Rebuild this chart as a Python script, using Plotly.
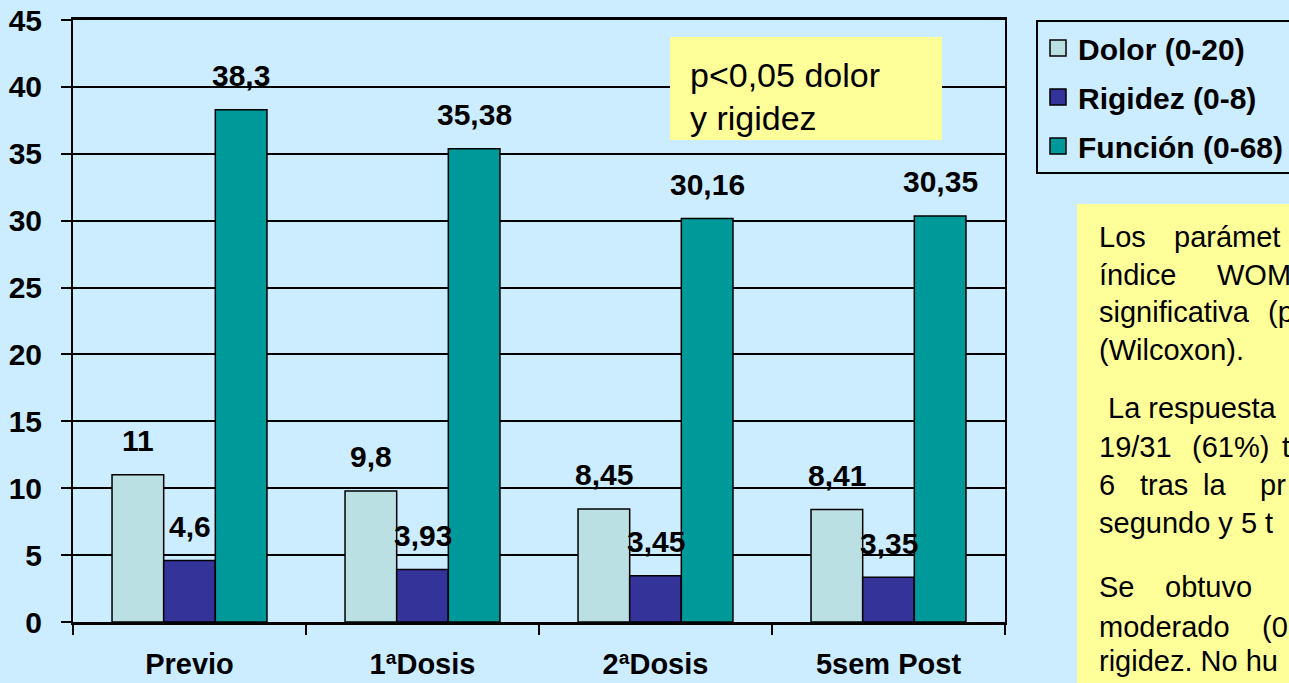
import plotly.graph_objects as go

categories = ["Previo", "1ªDosis", "2ªDosis", "5sem Post"]
series_names = ["Dolor (0-20)", "Rigidez (0-8)", "Función (0-68)"]
dolor = [11, 9.8, 8.45, 8.41]
rigidez = [4.6, 3.93, 3.45, 3.35]
funcion = [38.3, 35.38, 30.16, 30.35]
y_ticks = [0, 5, 10, 15, 20, 25, 30, 35, 40, 45]

colors = ["#BBE0E3", "#333399", "#009999"]
BG = "#CCECFF"
YEL = "#FFFF99"
FONT = "Liberation Sans, Arial, sans-serif"
FS = 30

# plot area in pixels
L, R, T, B = 73, 1005, 20, 622
W, H = 1289, 683


def px(x):
    return (x - L) / (R - L)


def py(y):
    return (B - y) / (B - T)


def fmt(v):
    return ("%g" % v).replace(".", ",")


fig = go.Figure()
all_series = [dolor, rigidez, funcion]
for i, (name, vals) in enumerate(zip(series_names, all_series)):
    fig.add_trace(go.Bar(
        x=categories, y=vals, name=name, legendgroup=name, showlegend=False,
        marker=dict(color=colors[i], line=dict(color="#000000", width=1.5)),
    ))
# legend entries (square swatches like the original legend)
for i, name in enumerate(series_names):
    fig.add_trace(go.Scatter(
        x=[None], y=[None], mode="markers", name=name, legendgroup=name,
        marker=dict(symbol="square", size=16, color=colors[i],
                    line=dict(color="#000000", width=1.5)),
    ))

annotations = []
group_w = (R - L) / len(categories)
bargap = 0.335
bar_w = group_w * (1 - bargap) / 3
for i, vals in enumerate(all_series):
    for c, v in zip(categories, vals):
        annotations.append(dict(
            x=c, y=v, xref="x", yref="y", text="<b>%s</b>" % fmt(v),
            showarrow=False, xanchor="center", yanchor="middle",
            xshift=(i - 1) * bar_w, yshift=34,
            font=dict(family=FONT, size=FS, color="#000000"),
        ))

shapes = []
# p-value box
shapes.append(dict(type="rect", xref="paper", yref="paper",
                   x0=px(670), x1=px(942), y0=py(140), y1=py(37),
                   fillcolor=YEL, line=dict(width=0), layer="above"))
for ypix, txt in [(75, "p<0,05 dolor"), (118, "y rigidez")]:
    annotations.append(dict(x=px(688), y=py(ypix), xref="paper", yref="paper",
                            text=txt, showarrow=False, xanchor="left", yanchor="middle",
                            font=dict(family=FONT, size=34, color="#000000")))

# note box
shapes.append(dict(type="rect", xref="paper", yref="paper",
                   x0=px(1077), x1=px(1300), y0=py(700), y1=py(204),
                   fillcolor=YEL, line=dict(width=0), layer="above"))
note_lines = [
    (237, [(1099, "Los"), (1174, "parámet")]),
    (275, [(1099, "índice"), (1217, "WOM")]),
    (312, [(1099, "significativa"), (1268, "(p")]),
    (350, [(1099, "(Wilcoxon).")]),
    (408, [(1108, "La respuesta")]),
    (447, [(1099, "19/31"), (1192, "(61%)"), (1282, "t")]),
    (485, [(1099, "6"), (1140, "tras"), (1203, "la"), (1260, "pr")]),
    (523, [(1099, "segundo y 5 t")]),
    (587, [(1099, "Se"), (1165, "obtuvo")]),
    (627, [(1099, "moderado"), (1262, "(0")]),
    (661, [(1099, "rigidez. No hu")]),
]
for ypix, words in note_lines:
    for xpix, w in words:
        annotations.append(dict(x=px(xpix), y=py(ypix), xref="paper", yref="paper",
                                text=w, showarrow=False, xanchor="left", yanchor="middle",
                                xshift=-2,
                                font=dict(family=FONT, size=29, color="#000000")))

fig.update_layout(
    width=W, height=H, autosize=False,
    margin=dict(l=L, r=W - R, t=T, b=H - B, pad=0, autoexpand=False),
    paper_bgcolor=BG, plot_bgcolor=BG,
    barmode="group", bargap=bargap, bargroupgap=0,
    font=dict(family=FONT, size=FS, color="#000000"),
    showlegend=True,
    legend=dict(
        x=px(1036), y=1, xanchor="left", yanchor="top",
        bgcolor="rgba(0,0,0,0)", bordercolor="#000000", borderwidth=2,
        font=dict(family=FONT, size=FS, color="#000000", weight="bold"),
        tracegroupgap=7, traceorder="grouped", itemwidth=30,
    ),
    annotations=annotations,
    shapes=shapes,
)
fig.update_yaxes(
    range=[0, 45], tickvals=y_ticks, ticktext=["<b>%d</b>" % t for t in y_ticks],
    showgrid=True, gridcolor="#000000", gridwidth=1.5,
    showline=True, linecolor="#000000", linewidth=2, mirror=True,
    ticks="outside", ticklen=10, tickcolor="#000000", tickwidth=2,
    ticklabelstandoff=13, zeroline=False, automargin=False,
    tickfont=dict(family=FONT, size=FS, color="#000000"),
)
fig.update_xaxes(
    tickvals=categories, ticktext=["<b>%s</b>" % c for c in categories],
    showgrid=False, showline=True, linecolor="#000000", linewidth=2.5, mirror=True,
    ticks="outside", ticklen=10, tickcolor="#000000", tickwidth=2,
    tickson="boundaries", ticklabelstandoff=14, automargin=False,
    tickfont=dict(family=FONT, size=29, color="#000000"),
)

fig.write_html("out.html", config={"displayModeBar": False},
               post_script="document.body.style.margin='0';document.body.style.overflow='hidden';")
